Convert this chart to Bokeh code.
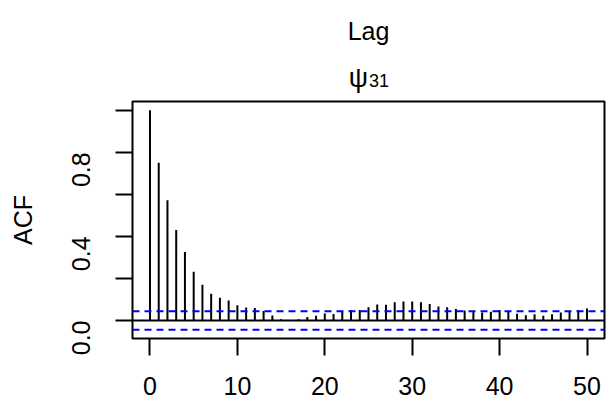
from bokeh.plotting import figure
from bokeh.layouts import column
from bokeh.models import Range1d, FixedTicker, Span
from bokeh.core.properties import value
from bokeh.embed import file_html
from bokeh.resources import INLINE

# data
lags = list(range(0, 51))
acf = [1.0, 0.75, 0.572, 0.431, 0.326, 0.232, 0.170, 0.127, 0.108, 0.095,
       0.072, 0.062, 0.059, 0.045, 0.024, 0.006, -0.002, 0.006, 0.017, 0.023,
       0.033, 0.031, 0.041, 0.050, 0.050, 0.063, 0.076, 0.075, 0.087, 0.090,
       0.090, 0.087, 0.078, 0.066, 0.063, 0.054, 0.047, 0.043, 0.038, 0.042,
       0.050, 0.044, 0.032, 0.025, 0.029, 0.022, 0.030, 0.038, 0.045, 0.050,
       0.057]
ci = 0.044
x_ticks = [0, 10, 20, 30, 40, 50]
y_ticks = [0.0, 0.2, 0.4, 0.6, 0.8, 1.0]
y_tick_labels = {0.0: "0.0", 0.2: "", 0.4: "0.4", 0.6: "", 0.8: "0.8", 1.0: ""}
title_main = "ψ"
title_sub = "31"
top_text = "Lag"
y_label = "ACF"

FONT = "Liberation Sans"
W = 608
LEFT = 132
RIGHT = 4
HEAD_H = 99

# header strip holding the texts above the plot
head = figure(width=W, height=HEAD_H, output_backend="svg", toolbar_location=None,
              x_range=Range1d(-2, 52), y_range=Range1d(HEAD_H, 0),
              x_axis_type=None, y_axis_type=None,
              min_border_left=LEFT, min_border_right=RIGHT,
              min_border_top=0, min_border_bottom=0)
head.grid.visible = False
head.outline_line_color = None
head.text(x=[25], y=[30], text=[top_text], text_align="center",
          text_baseline="alphabetic", text_font=value(FONT),
          text_font_size="25px", text_color="black")
head.text(x=[24.95], y=[77], text=[title_main], text_align="right",
          text_baseline="alphabetic", text_font=value(FONT),
          text_font_size="27px", text_color="black")
head.text(x=[25.05], y=[80], text=[title_sub], text_align="left",
          text_baseline="alphabetic", text_font=value(FONT),
          text_font_size="18px", text_color="black")

p = figure(width=W, height=400 - HEAD_H, output_backend="svg", toolbar_location=None,
           x_range=head.x_range, y_range=Range1d(-0.0858, 1.0418),
           min_border_left=LEFT, min_border_right=RIGHT, min_border_top=2,
           min_border_bottom=62)
p.grid.visible = False
p.outline_line_color = "black"
p.outline_line_width = 2
p.background_fill_color = "white"
p.border_fill_color = "white"

p.segment(x0=lags, y0=[0] * len(lags), x1=lags, y1=acf, line_color="black", line_width=2)
p.add_layout(Span(location=0, dimension="width", line_color="black", line_width=2))
for c in (ci, -ci):
    p.add_layout(Span(location=c, dimension="width", line_color="#0000FF",
                      line_width=2, line_dash="7 5"))

xa = p.xaxis[0]
xa.ticker = FixedTicker(ticks=x_ticks)
xa.major_tick_out = 17
xa.major_tick_in = 0
xa.minor_tick_out = 0
xa.minor_tick_in = 0
xa.major_tick_line_width = 2
xa.axis_line_color = None
xa.major_label_text_font = FONT
xa.major_label_text_font_size = "25px"
xa.major_label_text_color = "black"
xa.major_label_standoff = 21

ya = p.yaxis[0]
ya.ticker = FixedTicker(ticks=y_ticks)
ya.major_label_overrides = y_tick_labels
ya.major_label_orientation = 3.14159265 / 2
ya.major_tick_out = 17
ya.major_tick_in = 0
ya.minor_tick_out = 0
ya.minor_tick_in = 0
ya.major_tick_line_width = 2
ya.axis_line_color = None
ya.major_label_text_font = FONT
ya.major_label_text_font_size = "25px"
ya.major_label_text_color = "black"
ya.major_label_standoff = 34
ya.axis_label = y_label
ya.axis_label_text_font = FONT
ya.axis_label_text_font_size = "25px"
ya.axis_label_text_font_style = "normal"
ya.axis_label_text_color = "black"
ya.axis_label_standoff = 24

layout = column(head, p, spacing=0)
open("out.html", "w").write(file_html(layout, INLINE))
